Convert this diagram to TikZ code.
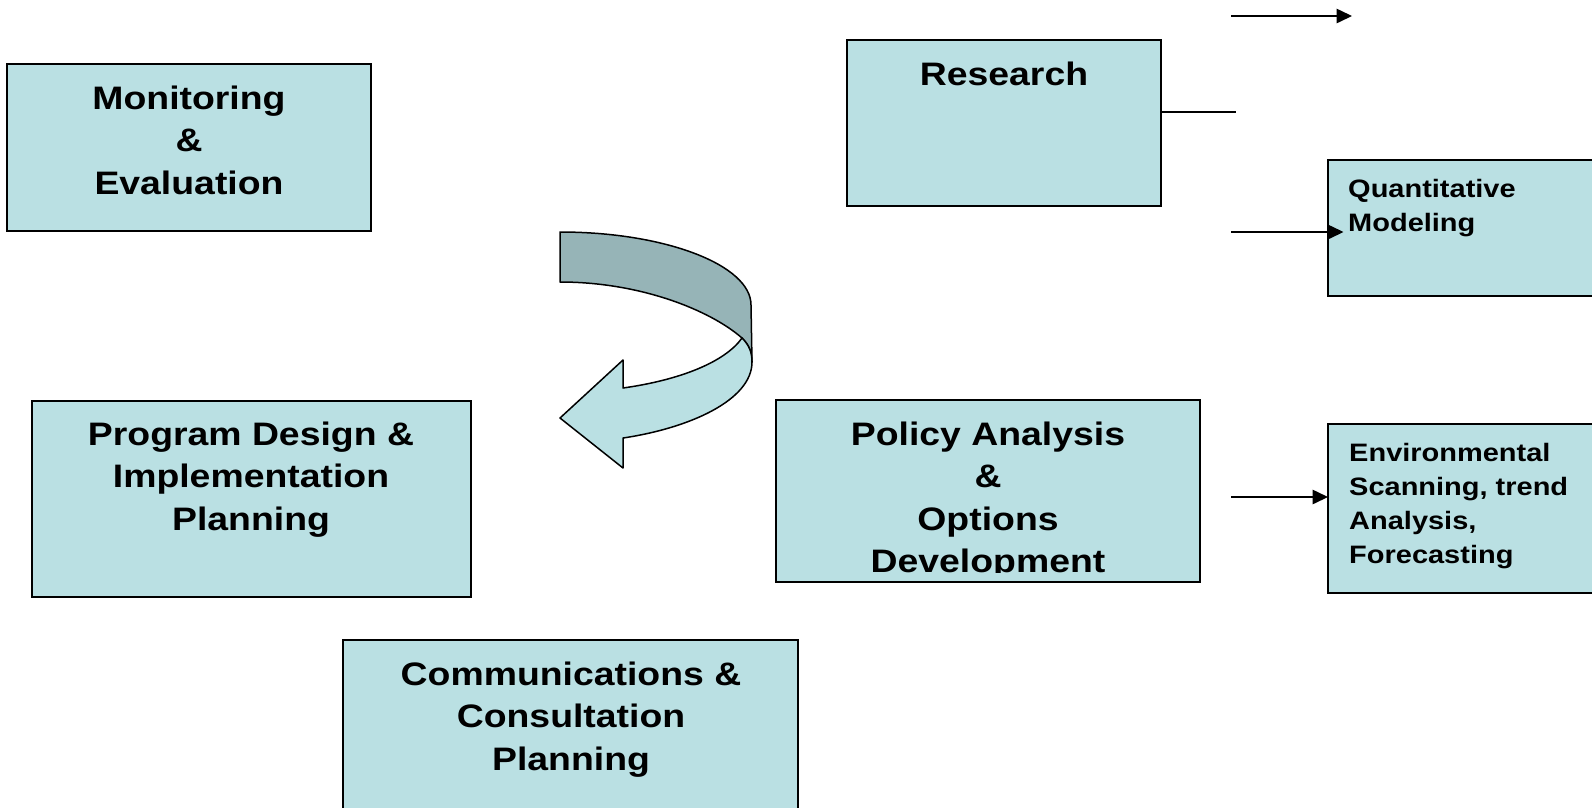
\documentclass[tikz,border=0pt]{standalone}
\usepackage{fontspec}
\setmainfont{Liberation Sans}[FakeStretch=1.15]
\usetikzlibrary{arrows.meta,calc}
\definecolor{boxfill}{HTML}{BAE0E3}
\definecolor{foldfill}{HTML}{96B4B7}

\tikzset{
  box/.style={draw=black, line width=2pt, fill=boxfill, inner sep=0pt, outer sep=0pt, anchor=north west},
  bigtext/.style={font=\fontsize{32.5}{42.5}\selectfont\bfseries, align=center, inner sep=0pt, anchor=north},
  smalltext/.style={font=\fontsize{25.2}{#1}\selectfont\bfseries, align=left, inner sep=0pt, anchor=north west},
  link/.style={line width=1.5pt},
  arr/.style={link, -{Triangle[length=15.5pt,width=14.5pt]}},
  ribbon/.style={draw=black, line width=1.5pt, line join=round},
}

\begin{document}
\begin{tikzpicture}[x=1pt, y=-1pt]
  \useasboundingbox (0,0) rectangle (1592,807);
  \clip (0,0) rectangle (1592,807);

  % boxes
  \node[box, minimum width=364pt, minimum height=167pt] (mon)   at (7,64)    {};
  \node[box, minimum width=314pt, minimum height=166pt] (res)   at (847,40)  {};
  \node[box, minimum width=290pt, minimum height=136pt] (quant) at (1328,160) {};
  \node[box, minimum width=439pt, minimum height=196pt] (prog)  at (32,401)  {};
  \node[box, minimum width=424pt, minimum height=182pt] (pol)   at (776,400) {};
  \node[box, minimum width=290pt, minimum height=169pt] (env)   at (1328,424) {};
  \node[box, minimum width=455pt, minimum height=190pt] (comm)  at (343,640) {};

  % box labels
  \node[bigtext] (monT)  at (189,79.5)    {\strut Monitoring\\ \&\\ Evaluation};
  \node[bigtext] (resT)  at (1004,56)     {\strut Research};
  \node[bigtext] (progT) at (251,415.25)  {\strut Program Design \&\\ Implementation\\ Planning};
  \node[bigtext] (commT) at (571,655.25)  {\strut Communications \&\\ Consultation\\ Planning};
  \begin{scope}
    \clip (776,400) rectangle (1200,572);
    \node[bigtext] (polT) at (988,415.25) {\strut Policy Analysis\\ \&\\ Options\\ Development};
  \end{scope}
  \node[smalltext=34.5] (quantT) at (1348,173) {\strut Quantitative\\ Modeling};
  \node[smalltext=34] (envT) at (1349,437) {\strut Environmental\\ Scanning, trend\\ Analysis,\\ Forecasting};

  % connectors
  \coordinate (t1) at (1231,16);
  \coordinate (t2) at (1352,16);
  \draw[arr] (t1) -- (t2);

  \coordinate (r1) at (1236,112);
  \draw[link] (res.east |- r1) -- (r1);

  \coordinate (q1) at (1231,232);
  \draw[arr] (q1) -- ($(q1 -| quant.west) + (15.5,0)$);

  \coordinate (e1) at (1231,497);
  \draw[arr] (e1) -- (e1 -| env.west);

  % curved U-turn arrow: back face of the ribbon
  \path[ribbon, fill=foldfill]
    (560,232) .. controls (665,232) and (751,265) .. (751,305)
    -- (752,362)
    .. controls (752,352) and (749,345) .. (742,338)
    .. controls (710,310) and (640,282) .. (560,282)
    -- cycle;
  % front face with the arrow head
  \path[ribbon, fill=boxfill]
    (742,338) .. controls (725,362) and (680,380) .. (623,388)
    -- (623,360) -- (560,418) -- (623,468) -- (623,438)
    .. controls (690,428) and (752,400) .. (752,362)
    .. controls (752,352) and (749,345) .. (742,338)
    -- cycle;
\end{tikzpicture}
\end{document}
